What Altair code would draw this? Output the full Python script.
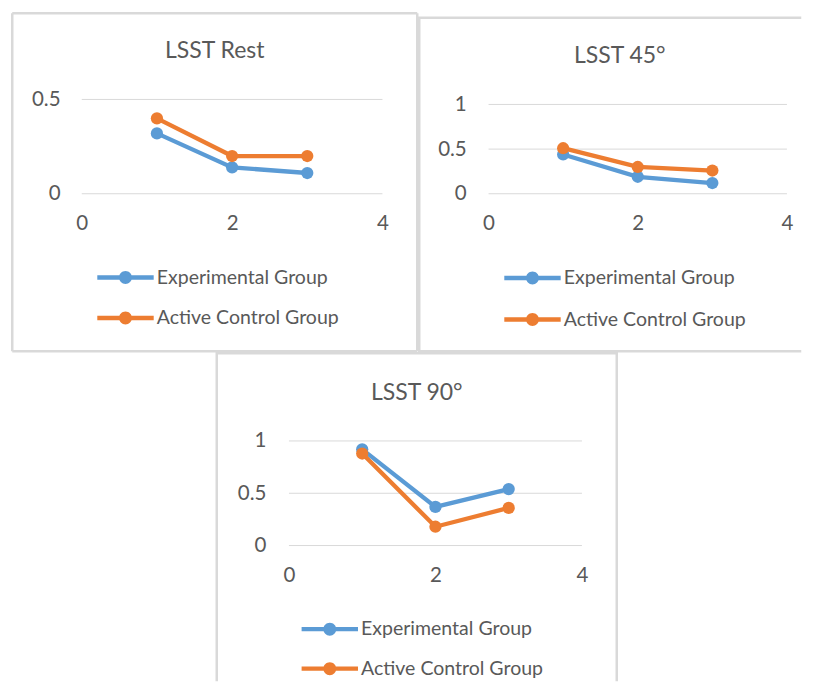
import altair as alt
import pandas as pd

# ---- data ----
sessions = [1, 2, 3]
groups = ["Experimental Group", "Active Control Group"]
colors = ["#5B9BD5", "#ED7D31"]

rest_exp = [0.32, 0.14, 0.11]
rest_ctrl = [0.40, 0.20, 0.20]
deg45_exp = [0.44, 0.19, 0.12]
deg45_ctrl = [0.51, 0.30, 0.26]
deg90_exp = [0.92, 0.37, 0.54]
deg90_ctrl = [0.88, 0.18, 0.36]

x_ticks = [0, 2, 4]
rest_ticks = [0, 0.5]
deg_ticks = [0, 0.5, 1]

FONT = "Lato"
TEXT = "#595959"
GRID = "#D9D9D9"
FRAME_W = 2.5

# legend symbol: a line with a dot in the middle (unit = sqrt(size)/2 px)
SYMBOL = ("M-4.7,-0.36H4.7V0.36H-4.7Z "
          "M1.08,0A1.08,1.08 0 1,1 -1.08,0A1.08,1.08 0 1,1 1.08,0Z")


def panel(title, exp, ctrl, ydom, yticks, W, H, xr, yr, ylabpad, title_off,
          title_dx, leg_x, leg_y, row_pad, dash):
    df = pd.DataFrame({
        "Session": sessions + sessions,
        "Value": exp + ctrl,
        "Group": [groups[0]] * 3 + [groups[1]] * 3,
    })
    gdf = pd.DataFrame({"g": yticks})
    xs = alt.Scale(domain=[0, 4], range=xr, nice=False, zero=False)
    ys = alt.Scale(domain=ydom, range=yr, nice=False, zero=False)
    xaxis = alt.Axis(values=x_ticks, format="d", title=None, grid=False,
                     domain=False, ticks=False, tickSize=0, labelFlush=False,
                     offset=yr[0] - H, labelPadding=20, labelFont=FONT,
                     labelFontSize=20.5, labelColor=TEXT)
    yaxis = alt.Axis(values=yticks, format=".1~f", title=None, grid=False,
                     domain=False, ticks=False, tickSize=0,
                     offset=-xr[0], labelPadding=ylabpad, labelFont=FONT,
                     labelFontSize=20.5, labelColor=TEXT)
    cscale = alt.Scale(domain=groups, range=colors)
    legend = alt.Legend(title=None, orient="none", legendX=leg_x,
                        legendY=leg_y, direction="vertical", padding=0,
                        symbolType=SYMBOL, symbolSize=144,
                        symbolStrokeWidth=0, symbolOffset=0,
                        labelOffset=21.5, rowPadding=row_pad, labelFont=FONT,
                        labelFontSize=19.5, labelColor=TEXT, labelLimit=400)
    grid = alt.Chart(gdf).mark_rule(color=GRID, strokeWidth=1).encode(
        y=alt.Y("g:Q", scale=ys, axis=yaxis),
        x=alt.X(datum=0, scale=xs, axis=xaxis),
        x2=alt.X2(datum=4),
    )
    enc = dict(
        x=alt.X("Session:Q", scale=xs, axis=xaxis),
        y=alt.Y("Value:Q", scale=ys, axis=yaxis),
        color=alt.Color("Group:N", scale=cscale, legend=legend),
    )
    lines = alt.Chart(df).mark_line(strokeWidth=4.3).encode(**enc)
    pts = alt.Chart(df).mark_point(filled=True, size=150, opacity=1).encode(**enc)
    view = alt.ViewBackground(stroke=GRID, strokeWidth=FRAME_W, strokeDash=dash)
    return alt.layer(grid, lines, pts).properties(
        width=W, height=H, view=view,
        title=alt.TitleParams(title, anchor="middle", frame="group",
                              offset=title_off, dx=title_dx, baseline="middle",
                              font=FONT, fontSize=23, fontWeight="normal",
                              color=TEXT),
    )


def spacer(w, h):
    return alt.Chart(pd.DataFrame({"v": [0]})).mark_point(
        size=1, opacity=0, strokeWidth=0, filled=True
    ).properties(width=w, height=h,
                 view=alt.ViewBackground(strokeOpacity=0, strokeWidth=0))


W1, H1 = 405, 338
W2, H2 = 382, 333.5
W3, H3 = 400, 328

p1 = panel("LSST Rest", rest_exp, rest_ctrl, [0, 0.5], rest_ticks,
           W1, H1, [69.5, 370.2], [180.5, 86.2], 21.7, -61, 0, 103.5, 254.5,
           19.5, [1, 0])
# right edge of the 45° panel and bottom edge of the 90° panel fall outside
p2 = panel("LSST 45°", deg45_exp, deg45_ctrl, [0, 1], deg_ticks,
           W2, H2, [69.3, 367.7], [176, 86.7], 22.3, -61.5, 9.5, 103.5, 250.5,
           20.5, [W2, H2, W2 + H2 + 20])
p3 = panel("LSST 90°", deg90_exp, deg90_ctrl, [0, 1], deg_ticks,
           W3, H3, [72.2, 365.2], [192.3, 87.7], 23, -62.5, 0, 103.3, 266.2,
           18.5, [W3 + H3, W3, H3 + 20])

right = alt.vconcat(spacer(1, 1), p2, spacing=1.5).resolve_scale(
    color="independent")
top = alt.hconcat(p1, right, spacing=-2).resolve_scale(color="independent")
bottom = alt.hconcat(spacer(1, 1), p3, spacing=201.5).resolve_scale(
    color="independent")
chart = alt.vconcat(top, bottom, spacing=-2.5).resolve_scale(
    color="independent"
).properties(
    padding={"left": 2.25, "top": 3.25, "right": 0, "bottom": 0},
    background="white",
)

chart.save("out.html", embed_options={"renderer": "svg", "actions": False})
